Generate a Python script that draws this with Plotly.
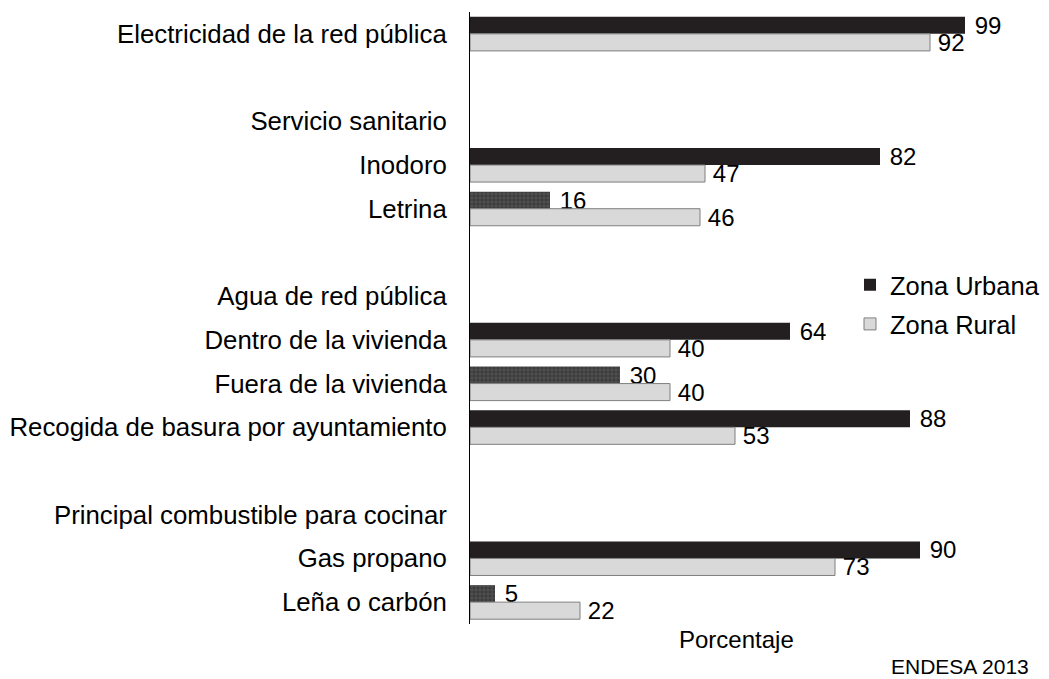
import plotly.graph_objects as go

categories = [
    "Electricidad de la red pública", " ", "Servicio sanitario", "Inodoro", "Letrina", "  ",
    "Agua de red pública", "Dentro de la vivienda", "Fuera de la vivienda",
    "Recogida de basura por ayuntamiento", "   ", "Principal combustible para cocinar",
    "Gas propano", "Leña o carbón",
]
urbana = [99, None, None, 82, 16, None, None, 64, 30, 88, None, None, 90, 5]
rural = [92, None, None, 47, 46, None, None, 40, 40, 53, None, None, 73, 22]
# bars drawn with a textured fill in the original
patterned = ["Letrina", "Fuera de la vivienda", "Leña o carbón"]

shapes = ["+" if c in patterned else "" for c in categories]

FONT = "Liberation Sans, Arial, sans-serif"

fig = go.Figure()
fig.add_trace(go.Bar(
    y=categories, x=urbana, orientation="h", name="Zona Urbana",
    marker=dict(color="#231f20", line=dict(width=0),
                pattern=dict(shape=shapes, fgcolor="#8a8a8a", bgcolor="#3c3c3c",
                             size=4, solidity=0.25, fillmode="overlay")),
    texttemplate=" %{x}", textposition="outside", cliponaxis=False, constraintext="none",
    textfont=dict(size=24, color="black", family=FONT),
    legendgroup="u",
))
fig.add_trace(go.Bar(
    y=categories, x=rural, orientation="h", name="Zona Rural",
    marker=dict(color="#d9d9d9", line=dict(width=1, color="#7f7f7f")),
    texttemplate="\u2009%{x}", textposition="outside", cliponaxis=False, constraintext="none",
    textfont=dict(size=24, color="black", family=FONT),
    legendgroup="r",
))

# the page body adds an 8px margin, so the figure is sized/shifted to compensate
fig.update_layout(
    width=1041, height=671,
    margin=dict(l=462, r=79, t=4, b=55, autoexpand=False),
    paper_bgcolor="white", plot_bgcolor="white",
    barmode="group", bargap=0.22, bargroupgap=0,
    font=dict(family=FONT, size=25.8, color="black"),
    showlegend=True,
    legend=dict(x=0.76, y=0.592, xanchor="left", yanchor="top",
                font=dict(size=25.5, family=FONT), tracegroupgap=3,
                bgcolor="rgba(0,0,0,0)", itemwidth=30),
    hovermode=False,
)
fig.update_xaxes(range=[0, 100], showgrid=False, zeroline=False, showline=False,
                 showticklabels=False, ticks="", automargin=False)
fig.update_yaxes(categoryorder="array", categoryarray=categories, autorange="reversed",
                 showgrid=False, zeroline=False, showline=True, linecolor="black", linewidth=1,
                 ticks="", ticklabelstandoff=17, automargin=False,
                 tickfont=dict(size=25.8, family=FONT, color="black"))

fig.add_annotation(text="Porcentaje", xref="paper", yref="paper", x=0.532, y=-0.026,
                   xanchor="center", yanchor="middle", showarrow=False,
                   font=dict(size=24, family=FONT, color="black"))
fig.add_annotation(text="ENDESA 2013", xref="paper", yref="paper", x=1.122, y=-0.069,
                   xanchor="right", yanchor="middle", showarrow=False,
                   font=dict(size=21, family=FONT, color="black"))

fig.write_html("out.html")
